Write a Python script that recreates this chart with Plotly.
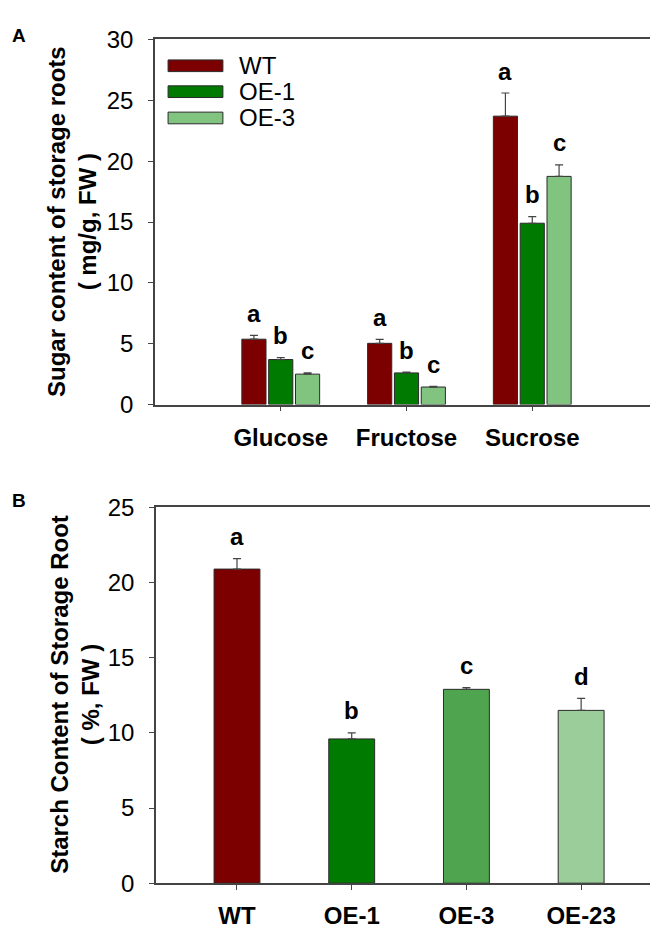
import plotly.graph_objects as go

# panel A: sugar content of storage roots
sugars = ["Glucose", "Fructose", "Sucrose"]
lines_a = ["WT", "OE-1", "OE-3"]
sugar_vals = {
    "WT": [5.37, 5.03, 23.7],
    "OE-1": [3.70, 2.60, 14.9],
    "OE-3": [2.50, 1.44, 18.75],
}
sugar_err = {
    "WT": [0.32, 0.32, 1.9],
    "OE-1": [0.15, 0.06, 0.55],
    "OE-3": [0.11, 0.06, 0.95],
}
sugar_letters = {
    "WT": ["a", "a", "a"],
    "OE-1": ["b", "b", "b"],
    "OE-3": ["c", "c", "c"],
}
colors_a = {"WT": "#7d0000", "OE-1": "#007a00", "OE-3": "#80c480"}

# panel B: starch content
lines_b = ["WT", "OE-1", "OE-3", "OE-23"]
starch_vals = [20.9, 9.6, 12.9, 11.5]
starch_err = [0.7, 0.4, 0.12, 0.8]
starch_letters = ["a", "b", "c", "d"]
colors_b = ["#7d0000", "#007a00", "#4fa54f", "#9acd9a"]

FONT = "Arial, Liberation Sans, sans-serif"
BARGAP = 0.36
OUTLINE = "#2a2a2a"
FS = 24

fig = go.Figure()

for name in lines_a:
    fig.add_trace(go.Bar(
        x=sugars, y=sugar_vals[name], name=name,
        marker=dict(color=colors_a[name], line=dict(color=OUTLINE, width=1)),
        error_y=dict(type="data", array=sugar_err[name], symmetric=False,
                     arrayminus=[0] * len(sugars), color="#444", thickness=1.2, width=4),
        xaxis="x", yaxis="y", showlegend=False,
    ))

fig.add_trace(go.Bar(
    x=lines_b, y=starch_vals, width=0.4,
    marker=dict(color=colors_b, line=dict(color=OUTLINE, width=1)),
    error_y=dict(type="data", array=starch_err, symmetric=False,
                 arrayminus=[0] * len(lines_b), color="#444", thickness=1.2, width=4),
    xaxis="x2", yaxis="y2", showlegend=False,
))

bold = dict(family=FONT, size=FS, color="black", weight="bold")
plain = dict(family=FONT, size=FS, color="black")

annotations = []
slot = (1 - BARGAP) / len(lines_a)
for i, name in enumerate(lines_a):
    for j, cat in enumerate(sugars):
        annotations.append(dict(
            x=j + (i - 1) * slot, y=sugar_vals[name][j] + sugar_err[name][j],
            xref="x", yref="y", text=sugar_letters[name][j], showarrow=False,
            xanchor="center", yanchor="middle", yshift=22, font=bold,
        ))
for j, cat in enumerate(lines_b):
    annotations.append(dict(
        x=cat, y=starch_vals[j] + starch_err[j], xref="x2", yref="y2",
        text=starch_letters[j], showarrow=False, xanchor="center",
        yanchor="middle", yshift=22, font=bold,
    ))

# legend for panel A drawn by hand (long flat swatches)
shapes = []
leg_y = [0.928, 0.857, 0.785]
for name, yy in zip(lines_a, leg_y):
    shapes.append(dict(type="rect", xref="x domain", yref="y domain",
                       x0=0.026, x1=0.135, y0=yy - 0.016, y1=yy + 0.016,
                       fillcolor=colors_a[name], line=dict(color=OUTLINE, width=1)))
    annotations.append(dict(x=0.163, y=yy, xref="x domain", yref="y domain",
                            text=name, showarrow=False, xanchor="left",
                            yanchor="middle", font=plain))

# axis titles and panel letters
annotations += [
    dict(x=64 / 658, y=1 - 206 / 929, xref="paper", yref="paper", textangle=-90,
         text="Sugar content of storage roots<br>( mg/g, FW )", showarrow=False,
         xanchor="center", yanchor="middle", font=bold),
    dict(x=67 / 658, y=1 - 693 / 929, xref="paper", yref="paper", textangle=-90,
         text="Starch Content of Storage Root<br>( %, FW )", showarrow=False,
         xanchor="center", yanchor="middle", font=bold),
    dict(x=2 / 658, y=1 - 14 / 929, xref="paper", yref="paper", text="A",
         xanchor="left", yanchor="middle", showarrow=False,
         font=dict(family=FONT, size=19, color="black", weight="bold")),
    dict(x=2 / 658, y=1 - 493 / 929, xref="paper", yref="paper", text="B",
         xanchor="left", yanchor="middle", showarrow=False,
         font=dict(family=FONT, size=19, color="black", weight="bold")),
]

axis_common = dict(showline=True, linecolor="#444", linewidth=1.5, mirror=True,
                   ticks="outside", ticklen=5, tickcolor="#444", tickwidth=1.2,
                   showgrid=False, zeroline=False)

fig.update_layout(
    width=658, height=929,
    margin=dict(l=0, r=0, t=0, b=0),
    paper_bgcolor="white", plot_bgcolor="white",
    barmode="group", bargap=BARGAP, bargroupgap=0.1,
    xaxis=dict(domain=[147 / 658, 650 / 658], anchor="y", range=[-1, 3],
               tickfont=bold, ticklabelstandoff=6, **axis_common),
    yaxis=dict(domain=[1 - 394 / 929, 1 - 18 / 929], anchor="x", range=[0, 30],
               tickvals=[0, 5, 10, 15, 20, 25, 30],
               tickfont=plain, ticklabelstandoff=10, **axis_common),
    xaxis2=dict(domain=[148 / 658, 650 / 658], anchor="y2", range=[-0.706, 3.67],
                tickfont=bold, ticklabelstandoff=5, **axis_common),
    yaxis2=dict(domain=[1 - 887 / 929, 1 - 500 / 929], anchor="x2", range=[0, 25],
                tickvals=[0, 5, 10, 15, 20, 25],
                tickfont=plain, ticklabelstandoff=10, **axis_common),
    annotations=annotations,
    shapes=shapes,
)

fig.write_html("out.html")
